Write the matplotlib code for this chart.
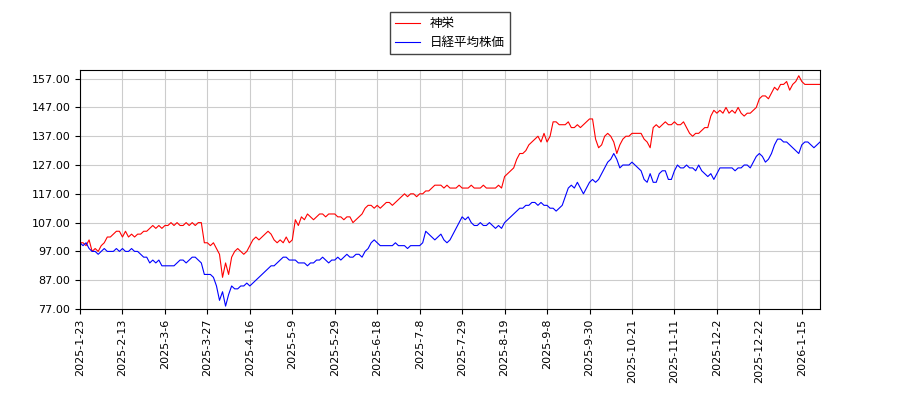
import matplotlib
matplotlib.use("Agg")
import matplotlib.pyplot as plt
import numpy as np

plt.rcParams['font.family'] = ['Noto Sans CJK JP', 'DejaVu Sans']

tick_labels = ['2025-1-23', '2025-2-13', '2025-3-6', '2025-3-27', '2025-4-16', '2025-5-9',
               '2025-5-29', '2025-6-18', '2025-7-8', '2025-7-29', '2025-8-19', '2025-9-8',
               '2025-9-30', '2025-10-21', '2025-11-11', '2025-12-2', '2025-12-22', '2026-1-15']

shinei = [
    100,100,99,101,97,98,97,99,100,102,
    102,103,104,104,102,104,102,103,102,103,
    103,104,104,105,106,105,106,105,106,106,
    107,106,107,106,106,107,106,107,106,107,
    107,100,100,99,100,98,96,88,93,89,
    95,97,98,97,96,97,99,101,102,101,
    102,103,104,103,101,100,101,100,102,100,
    101,108,106,109,108,110,109,108,109,110,
    110,109,110,110,110,109,109,108,109,109,
    107,108,109,110,112,113,113,112,113,112,
    113,114,114,113,114,115,116,117,116,117,
    117,116,117,117,118,118,119,120,120,120,
    119,120,119,119,119,120,119,119,119,120,
    119,119,119,120,119,119,119,119,120,119,
    123,124,125,126,129,131,131,132,134,135,
    136,137,135,138,135,137,142,142,141,141,
    141,142,140,140,141,140,141,142,143,143,
    136,133,134,137,138,137,135,131,134,136,
    137,137,138,138,138,138,136,135,133,140,
    141,140,141,142,141,141,142,141,141,142,
    140,138,137,138,138,139,140,140,144,146,
    145,146,145,147,145,146,145,147,145,144,
    145,145,146,147,150,151,151,150,152,154,
    153,155,155,156,153,155,156,158,156,155,
    155,155,155,155,155,
]

nikkei = [
    100,99,100,98,97,97,96,97,98,97,
    97,97,98,97,98,97,97,98,97,97,
    96,95,95,93,94,93,94,92,92,92,
    92,92,93,94,94,93,94,95,95,94,
    93,89,89,89,88,85,80,83,78,82,
    85,84,84,85,85,86,85,86,87,88,
    89,90,91,92,92,93,94,95,95,94,
    94,94,93,93,93,92,93,93,94,94,
    95,94,93,94,94,95,94,95,96,95,
    95,96,96,95,97,98,100,101,100,99,
    99,99,99,99,100,99,99,99,98,99,
    99,99,99,100,104,103,102,101,102,103,
    101,100,101,103,105,107,109,108,109,107,
    106,106,107,106,106,107,106,105,106,105,
    107,108,109,110,111,112,112,113,113,114,
    114,113,114,113,113,112,112,111,112,113,
    116,119,120,119,121,119,117,119,121,122,
    121,122,124,126,128,129,131,129,126,127,
    127,127,128,127,126,125,122,121,124,121,
    121,124,125,125,122,122,125,127,126,126,
    127,126,126,125,127,125,124,123,124,122,
    124,126,126,126,126,126,125,126,126,127,
    127,126,128,130,131,130,128,129,131,134,
    136,136,135,135,134,133,132,131,134,135,
    135,134,133,134,135,
]

fig = plt.figure(figsize=(9, 4), dpi=100)
ax = fig.add_axes([80/900, 1-309/400, 740/900, 239/400])
ax.plot(np.arange(len(shinei)), shinei, color='red', lw=0.8, label='神栄')
ax.plot(np.arange(len(nikkei)), nikkei, color='blue', lw=0.8, label='日経平均株価')
ax.set_xlim(0, len(shinei) - 1)
ax.set_ylim(77, 160)
ax.set_yticks(np.arange(77, 158, 10))
ax.set_yticklabels(['%.2f' % v for v in np.arange(77, 158, 10)], fontsize=8, family='DejaVu Sans')
ax.set_xticks(np.arange(len(tick_labels)) * 14)
ax.set_xticklabels(tick_labels, rotation=90, fontsize=8, family='DejaVu Sans')
ax.grid(True, color='#cccccc', lw=0.8)
ax.legend(loc='lower center', bbox_to_anchor=(0.5, 1.04), fontsize=9, framealpha=1,
          edgecolor='#444444', fancybox=False)
fig.savefig('out.png')
